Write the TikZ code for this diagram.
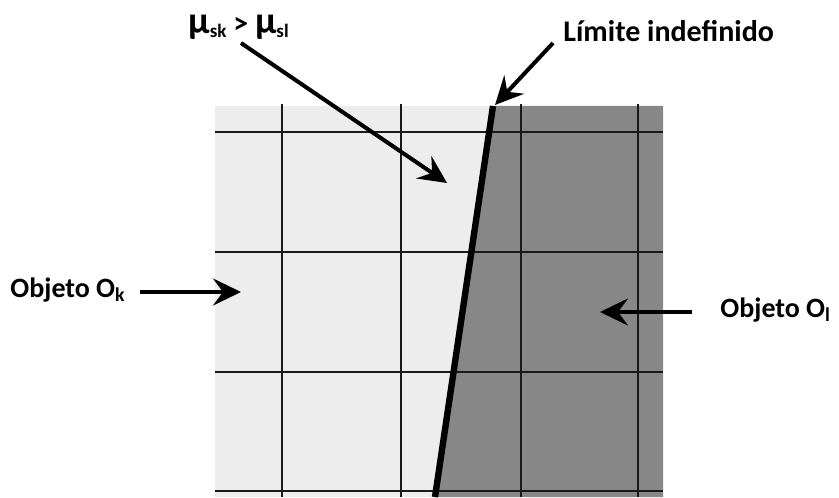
\documentclass[tikz,border=0pt]{standalone}
\usepackage{fontspec}
\setmainfont{Carlito}
\usetikzlibrary{arrows.meta}
\definecolor{lightobj}{HTML}{EDEDED}
\definecolor{darkobj}{HTML}{878787}
\newcommand{\musub}[1]{{\fontsize{19}{20}\selectfont μ}\raisebox{-2pt}{\fontsize{9.5}{10}\selectfont #1}}

\begin{document}
\begin{tikzpicture}[x=0.5pt, y=-0.5pt,
    gridln/.style={line width=1.1pt, black!90},
    pointer/.style={line width=2pt, -{Stealth[length=14pt, width=13.5pt, inset=5pt]}},
    lbl/.style={font=\bfseries\fontsize{15}{18}\selectfont, inner sep=0pt}]
  \useasboundingbox (0,0) rectangle (839,497);
  % the two objects
  \fill[lightobj] (215,106) rectangle (663,497);
  \fill[darkobj] (493,106) -- (663,106) -- (663,497) -- (435,497) -- cycle;
  % grid
  \foreach \gx in {282,401,521,638}
    \draw[gridln] (\gx,104) -- (\gx,497);
  \foreach \gy in {132,252,372,491}
    \draw[gridln] (215,\gy) -- (663,\gy);
  % undefined boundary
  \coordinate (btop) at (493,106);
  \coordinate (bbot) at (435,497);
  \draw[line width=3.2pt] (btop) -- (bbot);
  % labels
  \node[lbl, anchor=base west] (mu) at (188,34) {\musub{sk} > \musub{sl}};
  \node[lbl, anchor=base west] (lim) at (563,42) {Límite indefinido};
  \node[lbl, anchor=base west, font=\bfseries\fontsize{14}{17}\selectfont] (objk) at (10,297) {Objeto O\textsubscript{k}};
  \node[lbl, anchor=base west, font=\bfseries\fontsize{14}{17}\selectfont] (objl) at (720,317) {Objeto O\textsubscript{l}};
  % arrow ends
  \coordinate (mutail) at (241,43);
  \coordinate (mutip) at (447,183);
  \coordinate (limtail) at (553,43);
  \coordinate (limtip) at (495,105);
  \coordinate (ktail) at (140,292);
  \coordinate (ktip) at (241,292);
  \coordinate (ltail) at (692,312);
  \coordinate (ltip) at (600,312);
  \foreach \a/\b in {mutail/mutip, limtail/limtip, ktail/ktip, ltail/ltip}
    \draw[pointer] (\a) -- (\b);
\end{tikzpicture}
\end{document}
